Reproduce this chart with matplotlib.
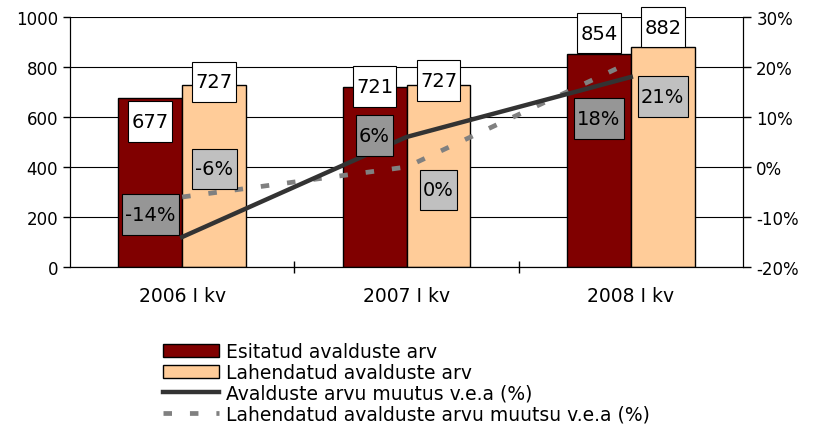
import numpy as np
import matplotlib
matplotlib.use("Agg")
import matplotlib.pyplot as plt
from matplotlib.ticker import FuncFormatter
from matplotlib.path import Path

categories = ["2006 I kv", "2007 I kv", "2008 I kv"]
esitatud = [677, 721, 854]
lahendatud = [727, 727, 882]
muutus = [-14, 6, 18]
muutus_lah = [-6, 0, 21]

# label positions (data units), placed like in the source chart
esit_lbl_y = [582, 722, 936]
lah_lbl_y = [740, 746, 960]
muutus_lbl_y = [-9.5, 6.3, 9.7]
muutus_lah_lbl_y = [-0.4, -4.6, 14.1]

plt.rcParams["font.family"] = ["DejaVu Sans"]


# tall box like the excel data labels
def tallbox(x0, y0, width, height, mutation_size):
    px = 0.17 * mutation_size
    py = 0.55 * mutation_size
    x0, y0 = x0 - px, y0 - py
    x1, y1 = x0 + width + 2 * px, y0 + height + 2 * py
    return Path([(x0, y0), (x1, y0), (x1, y1), (x0, y1), (x0, y0)], closed=True)


fig = plt.figure(figsize=(8.15, 4.31), dpi=100)
ax = fig.add_axes([70 / 815, 1 - 268 / 431, 673 / 815, 250 / 431])
ax2 = ax.twinx()

x = np.arange(len(categories))
w = 0.285

ax.set_axisbelow(True)
ax.bar(x - w / 2, esitatud, w, color="#800000", edgecolor="black", lw=1,
       label="Esitatud avalduste arv", zorder=2)
ax.bar(x + w / 2, lahendatud, w, color="#FFCC99", edgecolor="black", lw=1,
       label="Lahendatud avalduste arv", zorder=2)

ax.set_ylim(0, 1000)
ax.set_yticks(range(0, 1001, 200))
ax.set_xlim(-0.5, 2.5)
ax.yaxis.grid(True, color="black", lw=0.8)
ax.set_xticks(x)
ax.set_xticklabels(categories, fontsize=13.5)
ax.set_xticks([0.5, 1.5], minor=True)
ax.tick_params(axis="x", which="major", length=0, pad=14)
ax.tick_params(axis="x", which="minor", length=8, direction="inout", width=1)
ax.tick_params(axis="y", labelsize=12, length=5, width=1, direction="out")
ax.spines["top"].set_visible(False)
ax2.spines["top"].set_visible(False)

l2, = ax2.plot(x, muutus_lah, color="#808080", lw=3.4, ls=(0, (1.8, 3.8)),
               label="Lahendatud avalduste arvu muutsu v.e.a (%)", zorder=3)
l1, = ax2.plot(x, muutus, color="#333333", lw=3.2,
               label="Avalduste arvu muutus v.e.a (%)", zorder=3)
ax2.set_ylim(-20, 30)
ax2.set_yticks(range(-20, 31, 10))
ax2.yaxis.set_major_formatter(FuncFormatter(lambda v, p: f"{v:.0f}%"))
ax2.tick_params(axis="y", labelsize=12, length=6, width=1, direction="out")

for i in range(3):
    ax.text(x[i] - w / 2, esit_lbl_y[i], str(esitatud[i]), ha="center", va="center",
            fontsize=14, zorder=5,
            bbox=dict(boxstyle=tallbox, fc="white", ec="black", lw=0.8))
    ax.text(x[i] + w / 2, lah_lbl_y[i], str(lahendatud[i]), ha="center", va="center",
            fontsize=14, zorder=5,
            bbox=dict(boxstyle=tallbox, fc="white", ec="black", lw=0.8))
    ax2.text(x[i] - w / 2, muutus_lbl_y[i], f"{muutus[i]}%", ha="center", va="center",
             fontsize=14, zorder=5,
             bbox=dict(boxstyle=tallbox, fc="#969696", ec="black", lw=0.8))
    ax2.text(x[i] + w / 2, muutus_lah_lbl_y[i], f"{muutus_lah[i]}%", ha="center", va="center",
             fontsize=14, zorder=5,
             bbox=dict(boxstyle=tallbox, fc="#C0C0C0", ec="black", lw=0.8))

h1, lb1 = ax.get_legend_handles_labels()
fig.legend(h1 + [l1, l2], lb1 + [l1.get_label(), l2.get_label()],
           loc="upper left", bbox_to_anchor=(163 / 815, 1 - 343 / 431),
           frameon=False, fontsize=13.5, handlelength=3.0, handleheight=0.7,
           handletextpad=0.35, labelspacing=0.1, borderpad=0, borderaxespad=0)

fig.savefig("out.png", dpi=100)
